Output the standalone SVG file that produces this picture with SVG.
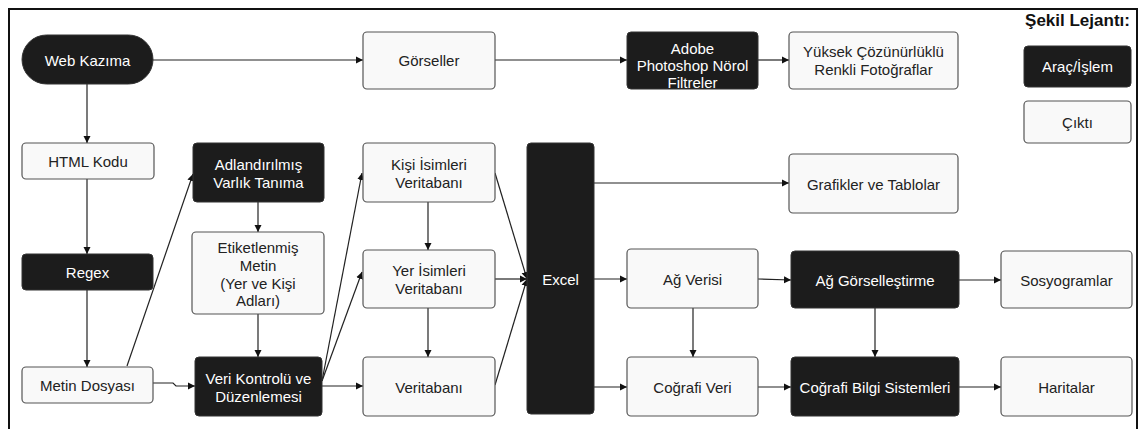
<svg xmlns="http://www.w3.org/2000/svg" width="1146" height="429" viewBox="0 0 1146 429">
<style>
.tool rect{fill:#1c1c1c;stroke:#333;stroke-width:1}
.out rect{fill:#f9f9f9;stroke:#555;stroke-width:1.2}
text{font-family:"Liberation Sans",Arial,sans-serif;font-size:15px;text-anchor:middle;dominant-baseline:central}
.tool text{fill:#fff}
.out text{fill:#222}
.conn path{fill:none;stroke:#222;stroke-width:1.2;marker-end:url(#ah)}
</style>
<defs>
<marker id="ah" markerWidth="8" markerHeight="8" refX="7" refY="4" orient="auto" markerUnits="userSpaceOnUse">
<path d="M0,0.5 L7,4 L0,7.5 z" fill="#111"/>
</marker>
</defs>
<rect x="0" y="0" width="1146" height="429" fill="#fff"/>
<rect id="frame" x="9" y="9" width="1128" height="440" fill="none" stroke="#111" stroke-width="2"/>

<g class="conn">
<path d="M153,60 L363,60"/>
<path d="M495,60 L627,60"/>
<path d="M758,60 L789,60"/>
<path d="M87,84 L87,143"/>
<path d="M87,179 L87,254"/>
<path d="M87,290 L87,367"/>
<path d="M127,366 L193,174"/>
<path d="M153,383 L173,383 L176,386 L195,386"/>
<path d="M258,202 L258,232"/>
<path d="M258,314 L258,357"/>
<path d="M322,381 L362,173"/>
<path d="M322,381 L362,272"/>
<path d="M322,386 L363,386"/>
<path d="M428,202 L428,250"/>
<path d="M428,308 L428,357"/>
<path d="M495,173 L527,279"/>
<path d="M495,279 L527,279"/>
<path d="M495,385 L527,279"/>
<path d="M594,183 L789,183"/>
<path d="M594,279 L627,279"/>
<path d="M594,387 L627,387"/>
<path d="M693,308 L693,357"/>
<path d="M758,279 L791,280"/>
<path d="M758,387 L791,387"/>
<path d="M875,308 L875,357"/>
<path d="M959,280 L1001,280"/>
<path d="M959,387 L1001,387"/>
</g>

<g id="web" class="tool"><rect x="22" y="35" width="131" height="49" rx="24.5"/><text x="87.5" y="60">Web Kazıma</text></g>
<g id="gorseller" class="out"><rect x="363" y="32" width="132" height="57" rx="4"/><text x="429" y="60.5">Görseller</text></g>
<g id="adobe" class="tool"><rect x="627" y="32" width="131" height="57" rx="4"/><text x="692.5" y="48">Adobe</text><text x="692.5" y="65">Photoshop Nörol</text><text x="692.5" y="82">Filtreler</text></g>
<g id="yuksek" class="out"><rect x="789" y="32" width="169" height="57" rx="4"/><text x="873.5" y="51.5">Yüksek Çözünürlüklü</text><text x="873.5" y="69.5">Renkli Fotoğraflar</text></g>
<g id="legend-title"><text x="1077.5" y="20" style="font-weight:bold;font-size:17px;fill:#111">Şekil Lejantı:</text></g>
<g id="legend-tool" class="tool"><rect x="1024" y="46" width="107" height="41" rx="4"/><text x="1077.5" y="66.5">Araç/İşlem</text></g>
<g id="legend-out" class="out"><rect x="1024" y="101" width="107" height="42" rx="4"/><text x="1077.5" y="122">Çıktı</text></g>

<g id="html" class="out"><rect x="22" y="143" width="132" height="36" rx="4"/><text x="88" y="161">HTML Kodu</text></g>
<g id="ner" class="tool"><rect x="193" y="143" width="131" height="59" rx="4"/><text x="258.5" y="164">Adlandırılmış</text><text x="258.5" y="182">Varlık Tanıma</text></g>
<g id="kisi" class="out"><rect x="363" y="143" width="132" height="59" rx="4"/><text x="429" y="164">Kişi İsimleri</text><text x="429" y="182">Veritabanı</text></g>
<g id="excel" class="tool"><rect x="527" y="143" width="67" height="271" rx="4"/><text x="560.5" y="279">Excel</text></g>
<g id="grafik" class="out"><rect x="789" y="154" width="169" height="59" rx="4"/><text x="873.5" y="184">Grafikler ve Tablolar</text></g>

<g id="regex" class="tool"><rect x="22" y="254" width="131" height="36" rx="4"/><text x="87.5" y="272">Regex</text></g>
<g id="etiket" class="out"><rect x="192" y="232" width="132" height="82" rx="4"/><text x="258" y="247">Etiketlenmiş</text><text x="258" y="265">Metin</text><text x="258" y="283">(Yer ve Kişi</text><text x="258" y="300">Adları)</text></g>
<g id="yer" class="out"><rect x="363" y="250" width="132" height="58" rx="4"/><text x="429" y="270">Yer İsimleri</text><text x="429" y="288">Veritabanı</text></g>
<g id="agveri" class="out"><rect x="627" y="249" width="131" height="59" rx="4"/><text x="692.5" y="279">Ağ Verisi</text></g>
<g id="aggorsel" class="tool"><rect x="791" y="251" width="168" height="57" rx="4"/><text x="875" y="280">Ağ Görselleştirme</text></g>
<g id="sosyo" class="out"><rect x="1001" y="251" width="131" height="57" rx="4"/><text x="1066.5" y="280">Sosyogramlar</text></g>

<g id="metin" class="out"><rect x="22" y="367" width="131" height="36" rx="4"/><text x="87.5" y="385">Metin Dosyası</text></g>
<g id="veri" class="tool"><rect x="195" y="357" width="127" height="59" rx="4"/><text x="258.5" y="378">Veri Kontrolü ve</text><text x="258.5" y="396">Düzenlemesi</text></g>
<g id="veritabani" class="out"><rect x="363" y="357" width="132" height="59" rx="4"/><text x="429" y="387">Veritabanı</text></g>
<g id="cografi" class="out"><rect x="627" y="357" width="131" height="59" rx="4"/><text x="692.5" y="387">Coğrafi Veri</text></g>
<g id="cbs" class="tool"><rect x="791" y="357" width="168" height="59" rx="4"/><text x="875" y="387">Coğrafi Bilgi Sistemleri</text></g>
<g id="harita" class="out"><rect x="1001" y="357" width="131" height="59" rx="4"/><text x="1066.5" y="387">Haritalar</text></g>
</svg>
